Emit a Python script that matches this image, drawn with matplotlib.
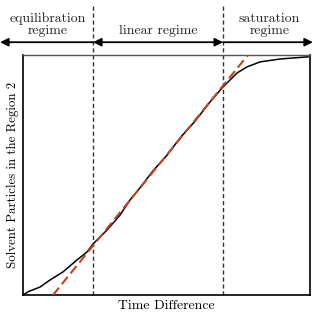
import matplotlib
matplotlib.use("Agg")
import matplotlib.pyplot as plt
import numpy as np

plt.rcParams['font.family'] = ['cmr10', 'DejaVu Serif']
plt.rcParams['axes.formatter.use_mathtext'] = True

# measured curve (time difference vs solvent particles, arbitrary units 0-100)
time = [0, 1.85, 5.9, 9.4, 13.9, 18.8, 22.3, 24.4, 29.3, 33.8, 37.3, 41.0, 45.0,
        50.0, 55.0, 60.0, 65.0, 69.7, 74.6, 78.0, 82.6, 89.5, 99.3]
particles = [0, 1.4, 3.3, 6.25, 9.6, 14.6, 17.9, 21.25, 27.1, 33.3, 39.6, 45.0, 51.3,
             58.0, 65.8, 72.5, 80.2, 86.7, 92.5, 95.0, 97.1, 98.3, 99.2]
# linear fit endpoints
fit_time = [10.45, 78.4]
fit_particles = [0, 100]
# regime boundaries
boundaries = [24.4, 69.7]
regime_labels = ["equilibration\nregime", "linear regime", "saturation\nregime"]

fig = plt.figure(figsize=(3.13, 3.13), dpi=100)
ax = fig.add_axes([0.0735, 0.0575, 0.917, 0.767])
ax.set_xlim(0, 100)
ax.set_ylim(0, 100)

ax.plot(time, particles, color='black', lw=1.1, zorder=3)
ax.plot(fit_time, fit_particles, color='#c8411e', lw=1.5, dashes=(4.5, 2.2), zorder=4)

for b in boundaries:
    ax.axvline(b, ymin=0, ymax=1.208, color='#333333', lw=1.0, ls=(0, (3, 2)), clip_on=False)

ax.set_xticks([])
ax.set_yticks([])
for s in ['left', 'right', 'bottom']:
    ax.spines[s].set_linewidth(1.2)
ax.spines['top'].set_color('#555555')
ax.spines['top'].set_linewidth(1.0)

ax.set_xlabel("Time Difference", fontsize=9.9, labelpad=3.5)
ax.set_ylabel("Solvent Particles in the Region 2", fontsize=9.3, labelpad=3)

xl = -8.0
xr = 101.0
ya = 1.053
ap = dict(lw=1.3, color='black', shrinkA=0, shrinkB=0, mutation_scale=12)
ax.annotate("", xy=(xl, ya), xytext=(boundaries[0], ya), xycoords=('data', 'axes fraction'),
            arrowprops=dict(arrowstyle='-|>', **ap), annotation_clip=False)
ax.annotate("", xy=(boundaries[1], ya), xytext=(boundaries[0], ya), xycoords=('data', 'axes fraction'),
            arrowprops=dict(arrowstyle='<|-|>', **ap), annotation_clip=False)
ax.annotate("", xy=(xr, ya), xytext=(boundaries[1], ya), xycoords=('data', 'axes fraction'),
            arrowprops=dict(arrowstyle='-|>', **ap), annotation_clip=False)

centers = [(xl + boundaries[0]) / 2 + 0.5, (boundaries[0] + boundaries[1]) / 2, (boundaries[1] + xr) / 2 + 0.5]
for c, t in zip(centers, regime_labels):
    ax.text(c, 1.075, t, transform=ax.get_xaxis_transform(), ha='center', va='bottom',
            fontsize=9.9, linespacing=1.02, color='#222222')

fig.savefig("out.png", dpi=100)
